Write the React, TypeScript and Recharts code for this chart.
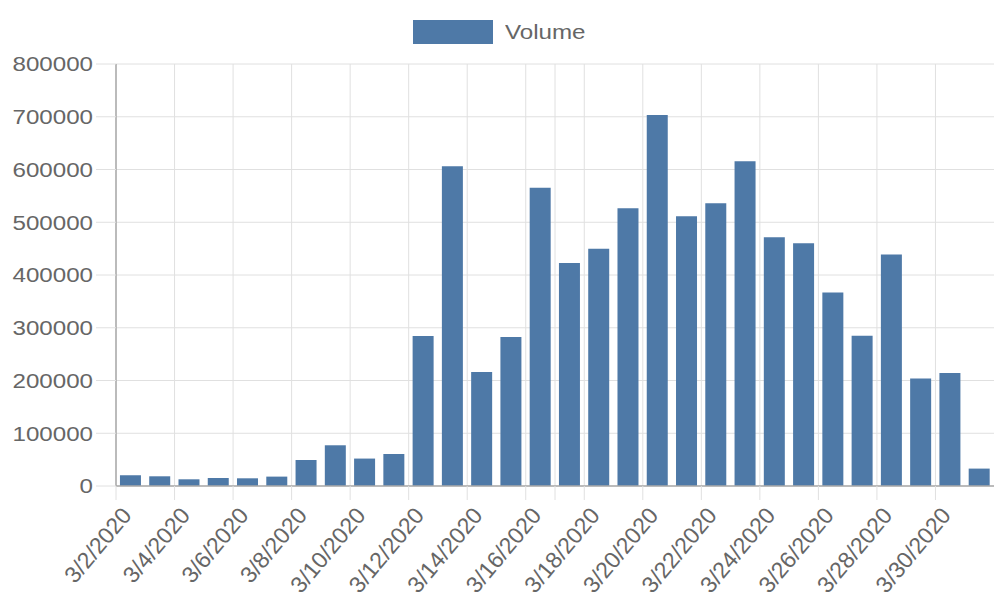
import React from 'react';
import { BarChart, Bar, XAxis, YAxis, CartesianGrid } from 'recharts';

const dates = [
  '3/2/2020', '3/3/2020', '3/4/2020', '3/5/2020', '3/6/2020', '3/7/2020',
  '3/8/2020', '3/9/2020', '3/10/2020', '3/11/2020', '3/12/2020', '3/13/2020',
  '3/14/2020', '3/15/2020', '3/16/2020', '3/17/2020', '3/18/2020', '3/19/2020',
  '3/20/2020', '3/21/2020', '3/22/2020', '3/23/2020', '3/24/2020', '3/25/2020',
  '3/26/2020', '3/27/2020', '3/28/2020', '3/29/2020', '3/30/2020', '3/31/2020',
];

const volumes = [
  20300, 18400, 12700, 15200, 14600, 17800,
  49300, 77200, 52000, 60700, 284500, 606000,
  216000, 282500, 565500, 422800, 450000, 526500,
  703400, 511300, 536000, 615600, 471500, 460000,
  367000, 285000, 438700, 203600, 214000, 33000,
];

const yTicks = [0, 100000, 200000, 300000, 400000, 500000, 600000, 700000, 800000];

const data = dates.map((date, i) => ({ date, volume: volumes[i] }));

const W = 1000;
const H = 600;
const margin = { top: 64, right: 6, bottom: 0, left: 0 };
const yAxisWidth = 116;
const xAxisHeight = 114;
const plotWidth = W - margin.left - margin.right - yAxisWidth;
const band = plotWidth / dates.length;

const FONT = '"Liberation Sans", Arial, Helvetica, sans-serif';
const TEXT = '#666';
const GRID = '#e0e0e0';
const BLUE = '#4e79a7';
// numbers in the source look wider than plain Arial
const SX = 1.15;

// chart.js skipped labels oddly, leaving one extra grid line after 3/16
const gridIdx = dates.map((_, i) => i).filter((i) => i % 2 === 0 || i === 15);

const XTick = (props: any) => {
  const { x, y, index, payload } = props;
  const showLine = gridIdx.includes(index);
  const showLabel = index % 2 === 0;
  const lx = x - band / 2;
  const ax = x + 2;
  const ay = y + 30;
  return (
    <g>
      {showLine && <line x1={lx} x2={lx} y1={y} y2={y + 14} stroke={GRID} strokeWidth={1} />}
      {showLabel && (
        <text
          x={ax}
          y={ay}
          transform={`rotate(-50, ${ax}, ${ay})`}
          textAnchor="end"
          fill={TEXT}
          fontSize={23}
          fontFamily={FONT}
        >
          {payload.value}
        </text>
      )}
    </g>
  );
};

const YTick = (props: any) => {
  const { x, y, payload } = props;
  return (
    <g transform={`translate(${x}, ${y}) scale(${SX}, 1)`}>
      <text x={0} y={0} dy="0.355em" textAnchor="end" fill={TEXT} fontSize={21} fontFamily={FONT}>
        {payload.value}
      </text>
    </g>
  );
};

export default function App() {
  return (
    <div style={{ position: 'absolute', left: 0, top: 0, width: W, height: H, background: '#fff' }}>
      <div
        style={{
          position: 'absolute',
          left: 413,
          top: 20,
          display: 'flex',
          alignItems: 'center',
          fontFamily: FONT,
          fontSize: 21,
          color: TEXT,
        }}
      >
        <div style={{ width: 80, height: 24, background: BLUE, marginRight: 12 }} />
        <span style={{ display: 'inline-block', transform: `scaleX(${SX})`, transformOrigin: 'left center' }}>
          Volume
        </span>
      </div>
      <BarChart width={W} height={H} data={data} margin={margin} barCategoryGap="13.5%">
        <CartesianGrid
          stroke={GRID}
          verticalCoordinatesGenerator={({ offset }: any) =>
            gridIdx.map((i) => offset.left + i * (offset.width / dates.length))
          }
        />
        <XAxis
          dataKey="date"
          height={xAxisHeight}
          interval={0}
          tickSize={0}
          tickMargin={0}
          tickLine={false}
          axisLine={{ stroke: '#aaa', strokeWidth: 1.5 }}
          tick={<XTick />}
        />
        <YAxis
          width={yAxisWidth}
          domain={[0, 800000]}
          ticks={yTicks}
          interval={0}
          tickSize={20}
          tickMargin={3}
          tickLine={{ stroke: GRID }}
          axisLine={{ stroke: '#aaa', strokeWidth: 1.5 }}
          tick={<YTick />}
        />
        <Bar dataKey="volume" fill={BLUE} isAnimationActive={false} />
      </BarChart>
    </div>
  );
}
